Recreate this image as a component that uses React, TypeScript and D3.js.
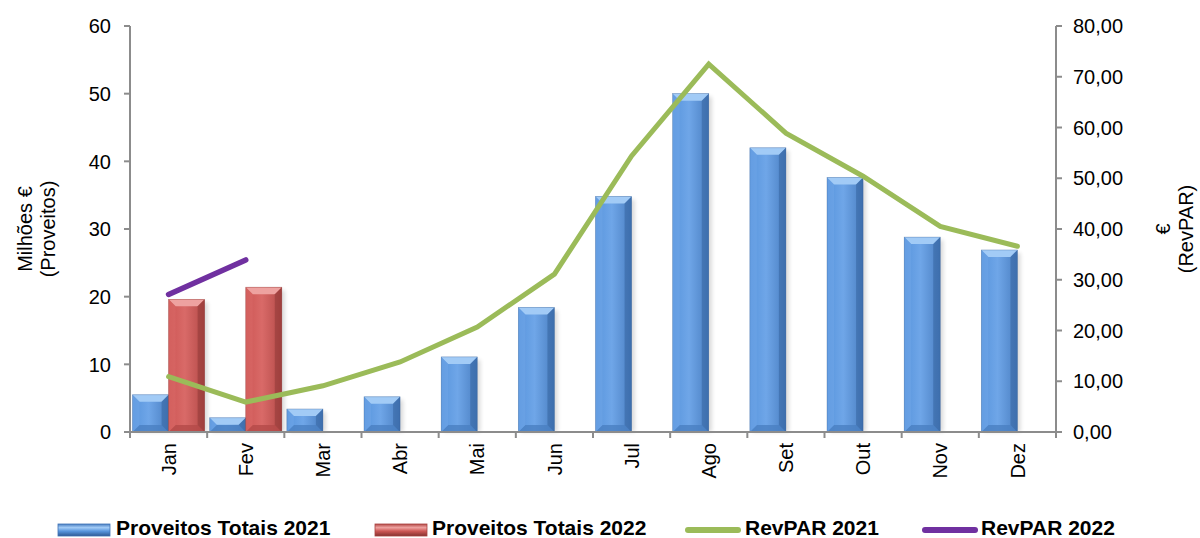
import React from "react";
import * as d3 from "d3";

const months = ["Jan", "Fev", "Mar", "Abr", "Mai", "Jun", "Jul", "Ago", "Set", "Out", "Nov", "Dez"];
const proveitos2021 = [5.5, 2.1, 3.4, 5.2, 11.1, 18.4, 34.8, 50.0, 42.0, 37.6, 28.8, 26.9];
const proveitos2022 = [19.6, 21.4];
const revpar2021 = [10.9, 5.9, 9.1, 13.8, 20.7, 31.1, 54.4, 72.5, 58.9, 50.4, 40.5, 36.6];
const revpar2022 = [27.1, 33.9];
const leftTicks = [0, 10, 20, 30, 40, 50, 60];
const rightTicks = [0, 10, 20, 30, 40, 50, 60, 70, 80];

const W = 1200, H = 538;
const X0 = 130, X1 = 1056, Y0 = 432, Y1 = 26;
const FONT = "'Liberation Sans', Arial, sans-serif";
const AXIS = "#8c8c8c";

const x = d3.scaleBand<string>().domain(months).range([X0, X1]).paddingInner(0).paddingOuter(0);
const xSub = d3.scaleBand<string>().domain(["a", "b"]).range([0, x.bandwidth()]).paddingOuter(0.07).paddingInner(0);
const yL = d3.scaleLinear().domain([0, 60]).range([Y0, Y1]);
const yR = d3.scaleLinear().domain([0, 80]).range([Y0, Y1]);

type Pal = { base: string; light: string; lighter: string; dark: string; darker: string; id: string };
const BLUE: Pal = { base: "#5895dd", light: "#6fa6e8", lighter: "#a2cbf6", dark: "#4a7fc2", darker: "#2f5a94", id: "b" };
const RED: Pal = { base: "#cd5654", light: "#d96a68", lighter: "#eea2a0", dark: "#b44a48", darker: "#853230", id: "r" };

function BevelBar({ x0, y0, w, h, p }: { x0: number; y0: number; w: number; h: number; p: Pal }) {
  const b = Math.min(7, h / 2, w / 2);
  const x1 = x0 + w, y1 = y0 + h;
  return (
    <g>
      <rect x={x0 + 3} y={y0 + 3} width={w} height={h - 3} fill="#000" opacity={0.15} filter="url(#sh)" />
      <rect x={x0} y={y0} width={w} height={h} fill={`url(#g${p.id})`} />
      <polygon points={`${x0},${y0} ${x1},${y0} ${x1 - b},${y0 + b} ${x0 + b},${y0 + b}`} fill={p.lighter} />
      <polygon points={`${x0},${y1} ${x1},${y1} ${x1 - b},${y1 - b} ${x0 + b},${y1 - b}`} fill={p.dark} opacity={0.8} />
      <polygon points={`${x0},${y0} ${x0 + b},${y0 + b} ${x0 + b},${y1 - b} ${x0},${y1}`} fill={p.light} opacity={0.5} />
      <polygon points={`${x1},${y0} ${x1 - b},${y0 + b} ${x1 - b},${y1 - b} ${x1},${y1}`} fill={p.darker} opacity={0.45} />
      <rect x={x0} y={y0} width={w} height={h} fill="none" stroke={p.darker} strokeWidth={0.6} opacity={0.5} />
    </g>
  );
}

export default function App() {
  const cx = (m: string) => (x(m) as number) + x.bandwidth() / 2;
  const lineL = d3.line<number>().x((_, i) => cx(months[i])).y((d) => yR(d));
  const bw = xSub.bandwidth();
  return (
    <svg width={W} height={H} style={{ position: "absolute", left: 0, top: 0, background: "#fff" }} fontFamily={FONT}>
      <defs>
        <filter id="sh" x="-50%" y="-50%" width="200%" height="200%">
          <feGaussianBlur stdDeviation="2" />
        </filter>
        {[BLUE, RED].map((p) => (
          <linearGradient key={p.id} id={`g${p.id}`} x1="0" x2="1" y1="0" y2="0">
            <stop offset="0" stopColor={p.base} />
            <stop offset="0.45" stopColor={p.light} />
            <stop offset="1" stopColor={p.dark} />
          </linearGradient>
        ))}
        {[BLUE, RED].map((p) => (
          <linearGradient key={p.id + "L"} id={`lg${p.id}`} x1="0" x2="0" y1="0" y2="1">
            <stop offset="0" stopColor={p.dark} />
            <stop offset="0.3" stopColor={p.lighter} />
            <stop offset="0.6" stopColor={p.base} />
            <stop offset="1" stopColor={p.darker} />
          </linearGradient>
        ))}
      </defs>

      {proveitos2021.map((v, i) => (
        <BevelBar key={"a" + i} x0={(x(months[i]) as number) + (xSub("a") as number)} y0={yL(v)} w={bw} h={Y0 - yL(v)} p={BLUE} />
      ))}
      {proveitos2022.map((v, i) => (
        <BevelBar key={"b" + i} x0={(x(months[i]) as number) + (xSub("b") as number)} y0={yL(v)} w={bw} h={Y0 - yL(v)} p={RED} />
      ))}

      <path d={lineL(revpar2021) || ""} fill="none" stroke="#9bbb59" strokeWidth={5} strokeLinejoin="miter" strokeLinecap="round" />
      <path d={lineL(revpar2022) || ""} fill="none" stroke="#7030a0" strokeWidth={5.5} strokeLinecap="round" />

      <line x1={X0} x2={X0} y1={Y1} y2={Y0} stroke={AXIS} strokeWidth={2} />
      {leftTicks.map((t) => (
        <g key={"l" + t}>
          <line x1={X0 - 6} x2={X0} y1={yL(t)} y2={yL(t)} stroke={AXIS} strokeWidth={2} />
          <text x={X0 - 19} y={yL(t)} dy="0.36em" textAnchor="end" fontSize={20} fill="#000">{t}</text>
        </g>
      ))}
      <line x1={X1} x2={X1} y1={Y1} y2={Y0} stroke={AXIS} strokeWidth={2} />
      {rightTicks.map((t) => (
        <g key={"r" + t}>
          <line x1={X1} x2={X1 + 6} y1={yR(t)} y2={yR(t)} stroke={AXIS} strokeWidth={2} />
          <text x={X1 + 17} y={yR(t)} dy="0.36em" textAnchor="start" fontSize={20} fill="#000">{t.toFixed(2).replace(".", ",")}</text>
        </g>
      ))}
      <line x1={X0} x2={X1} y1={Y0} y2={Y0} stroke={AXIS} strokeWidth={2} />
      {months.map((m, i) => (
        <g key={"t" + m}>
          <line x1={x(m) as number} x2={x(m) as number} y1={Y0} y2={Y0 + 6} stroke={AXIS} strokeWidth={2} />
          {i === months.length - 1 && <line x1={X1} x2={X1} y1={Y0} y2={Y0 + 6} stroke={AXIS} strokeWidth={2} />}
          <text transform={`translate(${cx(m)},${Y0 + 11}) rotate(-90)`} dy="0.36em" textAnchor="end" fontSize={20} fill="#000">{m}</text>
        </g>
      ))}

      <text transform={`translate(25,229) rotate(-90)`} dy="0.36em" textAnchor="middle" fontSize={20}>Milhões €</text>
      <text transform={`translate(48,229) rotate(-90)`} dy="0.36em" textAnchor="middle" fontSize={20}>(Proveitos)</text>
      <text transform={`translate(1163,229) rotate(-90)`} dy="0.36em" textAnchor="middle" fontSize={20}>€</text>
      <text transform={`translate(1186,229) rotate(-90)`} dy="0.36em" textAnchor="middle" fontSize={20}>(RevPAR)</text>

      <g>
        <rect x={58} y={524} width={52} height={12} fill="url(#lgb)" stroke="#3f72b4" strokeWidth={0.8} />
        <text x={116} y={535} fontSize={21} fontWeight="bold">Proveitos Totais 2021</text>
        <rect x={375} y={524} width={52} height={12} fill="url(#lgr)" stroke="#a84240" strokeWidth={0.8} />
        <text x={432} y={535} fontSize={21} fontWeight="bold">Proveitos Totais 2022</text>
        <line x1={688} x2={738} y1={530} y2={530} stroke="#9bbb59" strokeWidth={6} strokeLinecap="round" />
        <text x={745} y={535} fontSize={21} fontWeight="bold">RevPAR 2021</text>
        <line x1={925} x2={975} y1={530} y2={530} stroke="#7030a0" strokeWidth={6} strokeLinecap="round" />
        <text x={981} y={535} fontSize={21} fontWeight="bold">RevPAR 2022</text>
      </g>
    </svg>
  );
}
